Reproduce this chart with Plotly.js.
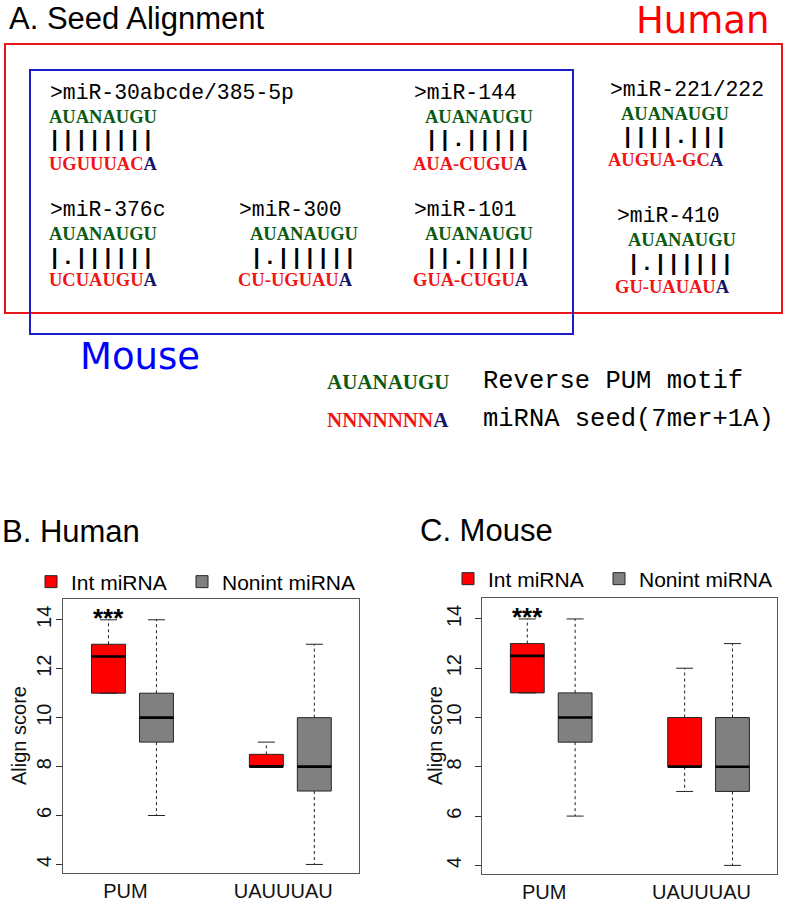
<!DOCTYPE html>
<html><head><meta charset="utf-8">
<script src="https://cdn.plot.ly/plotly-3.0.1.min.js"></script>
<style>html,body{margin:0;padding:0;background:#fff}#chart{width:786px;height:904px}</style>
</head><body><div id="chart"></div>
<script>
// ---------------- Panel A data ----------------
const mirNames   = ['>miR-30abcde/385-5p', '>miR-144', '>miR-221/222', '>miR-376c', '>miR-300', '>miR-101', '>miR-410'];
const pumMotif   = 'AUANAUGU';
const pairLines  = ['||||||||', '||.|||||', '||||.|||', '|.||||||', '|.||||||', '||.|||||', '|.||||||'];
const seedBody   = ['UGUUUAC', 'AUA-CUGU', 'AUGUA-GC', 'UCUAUGU', 'CU-UGUAU', 'GUA-CUGU', 'GU-UAUAU'];
const seedTail   = 'A';
const speciesLabels = ['Human', 'Mouse'];
const keySeq     = ['AUANAUGU', 'NNNNNNN'];
const keyTail    = ['', 'A'];
const keyText    = ['Reverse PUM motif', 'miRNA seed(7mer+1A)'];
const panelTitles = ['A. Seed Alignment', 'B. Human', 'C. Mouse'];

// ---------------- Panel B / C data ----------------
const groups      = ['PUM', 'UAUUUAU'];
const seriesNames = ['Int miRNA', 'Nonint miRNA'];
const humanIntLow  = [11, 8],   humanIntQ1 = [11, 8], humanIntMed = [12.5, 8], humanIntQ3 = [13, 8.5], humanIntHigh = [14, 9];
const humanNonLow  = [6, 4],    humanNonQ1 = [9, 7],  humanNonMed = [10, 8],   humanNonQ3 = [11, 10], humanNonHigh = [14, 13];
const mouseIntLow  = [11, 7],   mouseIntQ1 = [11, 8], mouseIntMed = [12.5, 8], mouseIntQ3 = [13, 10], mouseIntHigh = [14, 12];
const mouseNonLow  = [6, 4],    mouseNonQ1 = [9, 7],  mouseNonMed = [10, 8],   mouseNonQ3 = [11, 10], mouseNonHigh = [14, 13];
const sigMarks    = ['***', ''];
const yTicks      = [4, 6, 8, 10, 12, 14];
const yTitle      = 'Align score';

// ---------------- styles / layout helpers ----------------
const W = 786, H = 904;
const px = x => x / W, py = y => 1 - y / H;
const SANS = 'Liberation Sans, Arial, sans-serif';
const MONO = 'Liberation Mono, Courier New, monospace';
const SERIF = 'Liberation Serif, Times New Roman, serif';
const DEJA = 'DejaVu Sans, sans-serif';
const C_GREEN = '#0b5a12', C_RED = '#f01414', C_NAVY = '#141468';
const FILL = ['#ff0000', '#808080'];
const SEQ_SIZE = 18.5;

// block positions in pixels: [headerX, motifX, pairX, seedX, headerY]
const blockPos = [
  [49, 48, 47, 48, 93], [413, 424, 424, 412, 93], [609, 620, 620, 607, 90],
  [49, 48, 47, 48, 210], [238, 249, 249, 237, 210], [413, 424, 424, 412, 210],
  [616, 627, 626, 614, 216]
];
const lineDY = [0, 23.5, 48, 70.5];

const esc = s => s.replace(/&/g, '&amp;').replace(/</g, '&lt;').replace(/>/g, '&gt;');
function ann(text, x, y, font, extra) {
  return Object.assign({text: text, x: px(x), y: py(y), xref: 'paper', yref: 'paper',
    xanchor: 'left', yanchor: 'middle', showarrow: false, borderpad: 0, font: font}, extra || {});
}
const annotations = [];
annotations.push(ann(panelTitles[0], 8, 18.5, {family: SANS, size: 31, color: '#000'}));
annotations.push(ann(panelTitles[1], 1, 531, {family: SANS, size: 31, color: '#000'}));
annotations.push(ann(panelTitles[2], 419, 530, {family: SANS, size: 31, color: '#000'}));
annotations.push(ann(speciesLabels[0], 635, 20.5, {family: DEJA, size: 37, color: '#ff0000'}));
annotations.push(ann(speciesLabels[1], 79, 356.5, {family: DEJA, size: 37, color: '#0000ff'}));

mirNames.forEach((name, i) => {
  const p = blockPos[i];
  annotations.push(ann(esc(name), p[0], p[4] + lineDY[0], {family: MONO, size: 21.4, color: '#000'}));
  annotations.push(ann(pumMotif, p[1], p[4] + lineDY[1], {family: SERIF, size: SEQ_SIZE, color: C_GREEN, weight: 'bold'}));
  annotations.push(ann(pairLines[i], p[2], p[4] + lineDY[2], {family: MONO, size: 22.2, color: '#000', weight: 'bold'}));
  annotations.push(ann('<span style="color:' + C_RED + '">' + seedBody[i] + '</span><span style="color:' + C_NAVY + '">' + seedTail + '</span>',
    p[3], p[4] + lineDY[3], {family: SERIF, size: SEQ_SIZE, color: C_RED, weight: 'bold'}));
});
const keyY = [381.5, 420];
keySeq.forEach((s, i) => {
  annotations.push(ann('<span style="color:' + (i === 0 ? C_GREEN : C_RED) + '">' + s + '</span>' +
    (keyTail[i] ? '<span style="color:' + C_NAVY + '">' + keyTail[i] + '</span>' : ''),
    326, keyY[i], {family: SERIF, size: 21, color: C_GREEN, weight: 'bold'}));
  annotations.push(ann(keyText[i], 482, keyY[i], {family: MONO, size: 25.5, color: '#000'}));
});

// y-axis titles (R style, rotated)
annotations.push(ann(yTitle, 19, 736, {family: SANS, size: 20, color: '#111'}, {xanchor: 'center', textangle: -90}));
annotations.push(ann(yTitle, 435, 736, {family: SANS, size: 20, color: '#111'}, {xanchor: 'center', textangle: -90}));

const shapes = [
  {type: 'rect', xref: 'paper', yref: 'paper', x0: px(5), x1: px(782), y0: py(313), y1: py(44), line: {color: '#e8141c', width: 2}},
  {type: 'rect', xref: 'paper', yref: 'paper', x0: px(30), x1: px(573), y0: py(334), y1: py(70), line: {color: '#1c1cc8', width: 2}}
];

// ---------------- box plots ----------------
const OFFSET = [-0.152, 0.152], BOX_W = 0.215, CAP_W = 0.108;
const positions = s => groups.map((g, i) => i + OFFSET[s]);

function addPanel(traces, series, xa, ya, legendIds) {
  series.forEach((st, s) => {
    const xs = positions(s);
    traces.push({type: 'box', x: xs, q1: st.q1, median: st.med, q3: st.q3, lowerfence: st.q1, upperfence: st.q3,
      width: BOX_W, whiskerwidth: 0, boxpoints: false, fillcolor: FILL[s], line: {color: '#262626', width: 1},
      name: seriesNames[s], legend: legendIds[s], showlegend: true, xaxis: xa, yaxis: ya, hoverinfo: 'skip'});
    const wx = [], wy = [], cx = [], cy = [], mx = [], my = [];
    xs.forEach((x, i) => {
      wx.push(x, x, null, x, x, null); wy.push(st.q3[i], st.high[i], null, st.q1[i], st.low[i], null);
      cx.push(x - CAP_W / 2, x + CAP_W / 2, null, x - CAP_W / 2, x + CAP_W / 2, null);
      cy.push(st.high[i], st.high[i], null, st.low[i], st.low[i], null);
      mx.push(x - BOX_W / 2, x + BOX_W / 2, null); my.push(st.med[i], st.med[i], null);
    });
    traces.push({type: 'scatter', mode: 'lines', x: wx, y: wy, xaxis: xa, yaxis: ya, showlegend: false, hoverinfo: 'skip',
      line: {color: '#222', width: 1, dash: '3px,3px'}});
    traces.push({type: 'scatter', mode: 'lines', x: cx, y: cy, xaxis: xa, yaxis: ya, showlegend: false, hoverinfo: 'skip',
      line: {color: '#222', width: 1}});
    traces.push({type: 'scatter', mode: 'lines', x: mx, y: my, xaxis: xa, yaxis: ya, showlegend: false, hoverinfo: 'skip',
      line: {color: '#000', width: 2.6}});
    if (s === 0) {
      xs.forEach((x, i) => {
        if (sigMarks[i]) annotations.push({text: sigMarks[i], x: x, y: st.high[i] + 0.08, xref: xa, yref: ya,
          showarrow: false, yanchor: 'middle', font: {family: SANS, size: 26, color: '#000', weight: 'bold'}});
      });
    }
  });
}

const traces = [];
addPanel(traces, [
  {low: humanIntLow, q1: humanIntQ1, med: humanIntMed, q3: humanIntQ3, high: humanIntHigh},
  {low: humanNonLow, q1: humanNonQ1, med: humanNonMed, q3: humanNonQ3, high: humanNonHigh}
], 'x', 'y', ['legend', 'legend2']);
addPanel(traces, [
  {low: mouseIntLow, q1: mouseIntQ1, med: mouseIntMed, q3: mouseIntQ3, high: mouseIntHigh},
  {low: mouseNonLow, q1: mouseNonQ1, med: mouseNonMed, q3: mouseNonQ3, high: mouseNonHigh}
], 'x2', 'y2', ['legend3', 'legend4']);

const tickFont = {family: SANS, size: 20, color: '#111'};
function yAxis(dom, anchor, labelStandoff) {
  return {domain: dom, anchor: anchor, range: [3.65, 14.85], tickvals: yTicks, ticks: 'outside', ticklen: 6, tickwidth: 1,
    tickcolor: '#333', tickangle: -90, tickfont: tickFont, showline: true, mirror: true, linecolor: '#555', linewidth: 1.3,
    showgrid: false, zeroline: false, ticklabelstandoff: labelStandoff};
}
function xAxis(dom, anchor) {
  return {domain: dom, anchor: anchor, range: [-0.44, 1.435], tickvals: groups.map((g, i) => i - 0.045), ticktext: groups,
    ticks: '', tickfont: tickFont, showline: true, mirror: true, linecolor: '#555', linewidth: 1.3,
    showgrid: false, zeroline: false};
}
const legendStyle = (x, y) => ({orientation: 'h', x: px(x), y: py(y), xanchor: 'left', yanchor: 'middle',
  font: {family: SANS, size: 21, color: '#000'}, bgcolor: 'rgba(0,0,0,0)', itemclick: false});

const layout = {
  width: W, height: H, margin: {l: 0, r: 0, t: 0, b: 0}, paper_bgcolor: '#fff', plot_bgcolor: '#fff',
  showlegend: true, boxmode: 'overlay',
  xaxis: xAxis([px(63), px(359)], 'y'),
  yaxis: yAxis([py(873), py(599)], 'x', -3),
  xaxis2: xAxis([px(482), px(777)], 'y2'),
  yaxis2: yAxis([py(874), py(598)], 'x2', 6),
  legend: legendStyle(31, 582), legend2: legendStyle(182, 582),
  legend3: legendStyle(448, 579), legend4: legendStyle(599, 579),
  annotations: annotations, shapes: shapes
};
Plotly.newPlot('chart', traces, layout, {staticPlot: true});
</script></body></html>
